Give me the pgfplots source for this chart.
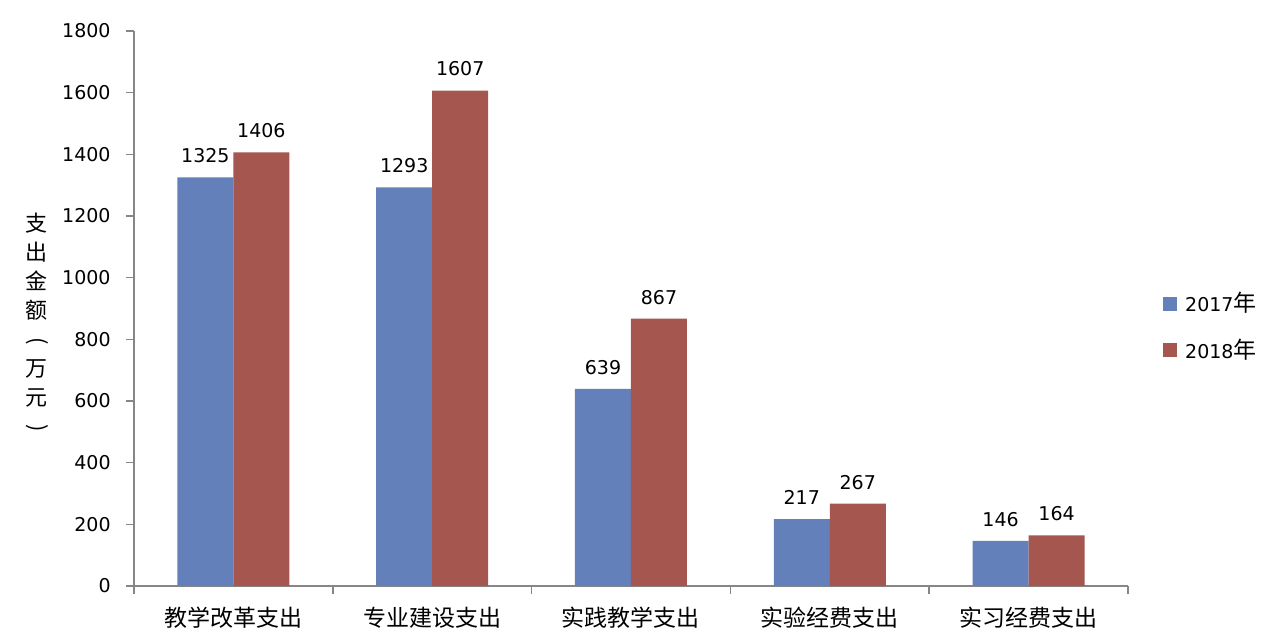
\documentclass[border=0pt]{standalone}
\usepackage{pgfplots}
\pgfplotsset{compat=1.18}
\usepackage{fontspec}
\setmainfont{DejaVu Sans}
\newfontfamily\cjk{Noto Sans CJK SC}
\definecolor{cblue}{RGB}{99,128,187}
\definecolor{cred}{RGB}{165,86,78}
\definecolor{cax}{RGB}{134,134,134}
\begin{document}
\begin{tikzpicture}
\useasboundingbox (-67pt,-28.5pt) rectangle (573pt,293pt);
\begin{axis}[
  at={(0,0)}, anchor=south west,
  scale only axis, width=497pt, height=277.5pt,
  xmin=-0.5, xmax=4.5, ymin=0, ymax=1800,
  axis lines*=left,
  axis line style={cax, line width=0.8pt},
  ybar=0pt, bar width=28pt,
  ytick={0,200,...,1800},
  xtick={-0.5,0.5,...,4.5},
  xticklabels={},
  extra x ticks={0,1,2,3,4},
  extra x tick labels={教学改革支出,专业建设支出,实践教学支出,实验经费支出,实习经费支出},
  extra x tick style={major tick length=0pt,
    xticklabel style={font=\cjk\fontsize{11.5}{13}\selectfont, anchor=center, yshift=-16pt}},
  tick align=outside,
  major tick length=4pt,
  tick style={cax, line width=0.8pt},
  yticklabel style={font=\fontsize{9.5}{11}\selectfont, anchor=east, inner sep=0pt, xshift=-7.5pt},
  /pgf/number format/assume math mode=true,
  scaled y ticks=false,
  yticklabel={\pgfmathprintnumber[fixed,1000 sep={}]{\tick}},
  nodes near coords,
  nodes near coords={\pgfmathprintnumber[fixed,1000 sep={},assume math mode=true]{\pgfplotspointmeta}},
  every node near coord/.append style={font=\fontsize{9.5}{11}\selectfont, inner sep=0pt, anchor=south, yshift=7pt},
  clip=false,
  legend style={at={(1.035,0.467)}, anchor=west, draw=none, fill=none, inner sep=0pt,
    row sep=8pt, font=\fontsize{9.5}{11}\selectfont, legend cell align=left,
    nodes={inner sep=2pt}},
  legend image code/.code={\fill[#1] (0pt,-3.5pt) rectangle (7pt,3.5pt);},
]
\addplot[fill=cblue, draw=none] coordinates {(0,1325) (1,1293) (2,639) (3,217) (4,146)};
\addplot[fill=cred, draw=none] coordinates {(0,1406) (1,1607) (2,867) (3,267) (4,164)};
\legend{\hspace{2pt}2017{\cjk\fontsize{11.5}{13}\selectfont 年},\hspace{2pt}2018{\cjk\fontsize{11.5}{13}\selectfont 年}}
\end{axis}
\node[align=center, font=\cjk\fontsize{11}{14.5}\selectfont, inner sep=0pt] at (-48.5pt,131pt) {支\\出\\金\\额\\\rotatebox[origin=c]{-90}{(}\\万\\元\\\rotatebox[origin=c]{-90}{)}};
\end{tikzpicture}
\end{document}
